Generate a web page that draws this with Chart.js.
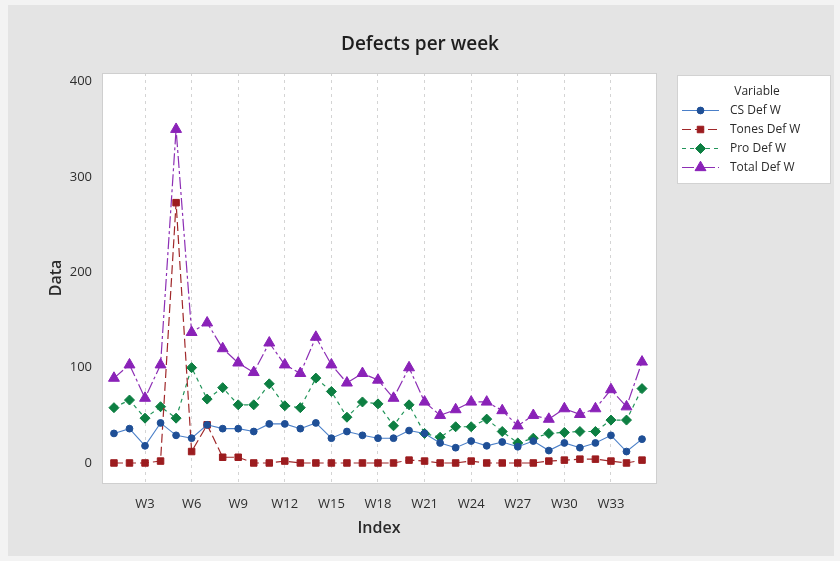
<!DOCTYPE html>
<html>
<head>
<meta charset="utf-8">
<title>Defects per week</title>
<script src="https://cdn.jsdelivr.net/npm/chart.js@4.4.1/dist/chart.umd.min.js"></script>
<style>
  html, body { margin: 0; padding: 0; background: #f3f3f3; }
  #wrap { width: 840px; height: 561px; position: relative; }
</style>
</head>
<body>
<div id="wrap"><canvas id="chart"></canvas></div>
<script>
// Week index (x axis)
const weeks = ['W1','W2','W3','W4','W5','W6','W7','W8','W9','W10',
               'W11','W12','W13','W14','W15','W16','W17','W18','W19','W20',
               'W21','W22','W23','W24','W25','W26','W27','W28','W29','W30',
               'W31','W32','W33','W34','W35'];
// Labelled weeks on the x axis
const tickWeeks = ['W3','W6','W9','W12','W15','W18','W21','W24','W27','W30','W33'];
// Y axis tick values
const yTicks = [0, 100, 200, 300, 400];

// Weekly defect counts
const csDef    = [31, 36, 18, 42, 29, 26, 40, 36, 36, 33, 41, 41, 36, 42, 26, 33, 29, 26, 26, 34,
                  31, 21, 16, 23, 18, 22, 17, 23, 13, 21, 16, 21, 29, 12, 25];
const tonesDef = [0, 0, 0, 2, 273, 12, 40, 6, 6, 0, 0, 2, 0, 0, 0, 0, 0, 0, 0, 3,
                  2, 0, 0, 2, 0, 0, 0, 0, 2, 3, 4, 4, 2, 0, 3];
const proDef   = [58, 66, 47, 59, 47, 100, 67, 79, 61, 61, 83, 60, 58, 89, 75, 48, 64, 62, 39, 61,
                  31, 27, 38, 38, 46, 33, 21, 26, 31, 32, 33, 33, 45, 45, 78];
const totalDef = [89, 103, 68, 103, 350, 137, 147, 120, 105, 95, 126, 103, 94, 132, 103, 84, 94, 87, 68, 100,
                  64, 50, 56, 64, 64, 55, 39, 50, 46, 57, 51, 57, 77, 59, 106];

const seriesNames = ['CS Def W', 'Tones Def W', 'Pro Def W', 'Total Def W'];

const FONT = "'Open Sans', 'Noto Sans', 'DejaVu Sans', sans-serif";

const toPoints = vals => vals.map((v, i) => ({ x: i + 1, y: v }));

const datasets = [
  { label: seriesNames[0], data: toPoints(csDef),
    borderColor: '#4a7fc8', backgroundColor: '#1f4f96', pointBorderColor: '#1f4f96',
    borderWidth: 1.1, borderDash: [], pointStyle: 'circle', pointRadius: 3.4 },
  { label: seriesNames[1], data: toPoints(tonesDef),
    borderColor: '#a0282a', backgroundColor: '#9c1c1f', pointBorderColor: '#9c1c1f',
    borderWidth: 1.2, borderDash: [9, 4], pointStyle: 'rect', pointRadius: 4.6 },
  { label: seriesNames[2], data: toPoints(proDef),
    borderColor: '#22955a', backgroundColor: '#0d7f42', pointBorderColor: '#0d7f42',
    borderWidth: 1.2, borderDash: [4, 4], pointStyle: 'rectRot', pointRadius: 5 },
  { label: seriesNames[3], data: toPoints(totalDef),
    borderColor: '#8d2fb5', backgroundColor: '#8a22b8', pointBorderColor: '#8a22b8',
    borderWidth: 1.2, borderDash: [12, 3, 3, 3], pointStyle: 'triangle', pointRadius: 6.3 }
];
datasets.forEach(d => { d.pointBorderWidth = 1; d.tension = 0; d.fill = false; });

// Backgrounds: outer frame, grey graph region, white data region
const backdrop = {
  id: 'backdrop',
  beforeDraw(chart) {
    const { ctx, chartArea: a } = chart;
    ctx.save();
    ctx.fillStyle = '#f3f3f3';
    ctx.fillRect(0, 0, chart.width, chart.height);
    ctx.fillStyle = '#e4e4e4';
    ctx.fillRect(8, 5, 826, 551);
    ctx.fillStyle = '#ffffff';
    ctx.fillRect(a.left, a.top, a.right - a.left, a.bottom - a.top);
    ctx.restore();
  },
  afterDraw(chart) {
    const { ctx, chartArea: a } = chart;
    ctx.save();
    ctx.strokeStyle = '#cfcfcf';
    ctx.lineWidth = 1;
    ctx.strokeRect(a.left + 0.5, a.top + 0.5, a.right - a.left, a.bottom - a.top);
    // Title
    ctx.fillStyle = '#1e1e1e';
    ctx.font = `600 19px ${FONT}`;
    ctx.textAlign = 'center';
    ctx.textBaseline = 'middle';
    ctx.fillText('Defects per week', 420, 45);
    ctx.restore();
  }
};

// Legend box at the right
const sideLegend = {
  id: 'sideLegend',
  afterDraw(chart) {
    const { ctx } = chart;
    const x0 = 677, y0 = 75, w = 153, h = 108;
    ctx.save();
    ctx.fillStyle = '#ffffff';
    ctx.fillRect(x0, y0, w, h);
    ctx.strokeStyle = '#d2d2d2';
    ctx.lineWidth = 1;
    ctx.strokeRect(x0 + 0.5, y0 + 0.5, w, h);
    ctx.fillStyle = '#2a2a2a';
    ctx.font = `12px ${FONT}`;
    ctx.textBaseline = 'middle';
    ctx.textAlign = 'center';
    ctx.fillText('Variable', 757, 92);
    ctx.textAlign = 'left';
    chart.data.datasets.forEach((ds, i) => {
      const y = 110.5 + i * 19;
      ctx.save();
      ctx.strokeStyle = ds.borderColor;
      ctx.lineWidth = ds.borderWidth;
      ctx.setLineDash(ds.borderDash);
      ctx.beginPath();
      ctx.moveTo(682, y);
      ctx.lineTo(719, y);
      ctx.stroke();
      ctx.restore();
      ctx.save();
      ctx.fillStyle = ds.backgroundColor;
      ctx.strokeStyle = ds.pointBorderColor;
      ctx.lineWidth = 1;
      Chart.helpers.drawPoint(ctx, { pointStyle: ds.pointStyle, radius: ds.pointRadius, borderWidth: 1 }, 700.5, y);
      ctx.restore();
      ctx.fillStyle = '#2a2a2a';
      ctx.fillText(ds.label, 730, y);
    });
    ctx.restore();
  }
};

new Chart(document.getElementById('chart'), {
  type: 'line',
  data: { datasets },
  plugins: [backdrop, sideLegend],
  options: {
    responsive: true,
    maintainAspectRatio: false,
    animation: false,
    events: [],
    layout: { padding: { top: 73, left: 47, right: 184, bottom: 23 } },
    plugins: { legend: { display: false }, tooltip: { enabled: false }, title: { display: false } },
    scales: {
      x: {
        type: 'linear',
        min: 0.23,
        max: 35.9,
        afterBuildTicks: s => { s.ticks = tickWeeks.map(w => ({ value: weeks.indexOf(w) + 1 })); },
        afterFit: s => { s.height = 55; },
        ticks: {
          callback: v => weeks[Math.round(v) - 1],
          color: '#2e2e2e', font: { family: FONT, size: 13 }, padding: 13, maxRotation: 0, autoSkip: false
        },
        grid: { color: '#d4d4d4', drawTicks: false, lineWidth: 1 },
        border: { display: false, dash: [3, 4] },
        title: { display: true, text: 'Index', color: '#2a2a2a', font: { family: FONT, size: 16, weight: '600' }, padding: 0 }
      },
      y: {
        type: 'linear',
        min: -21,
        max: 409,
        afterBuildTicks: s => { s.ticks = yTicks.map(v => ({ value: v })); },
        afterFit: s => { s.width = 55; },
        ticks: { color: '#2e2e2e', font: { family: FONT, size: 13 }, padding: 10 },
        grid: { display: false, drawTicks: false },
        border: { display: false },
        title: { display: true, text: 'Data', color: '#2a2a2a', font: { family: FONT, size: 16, weight: '600' }, padding: 0 }
      }
    }
  }
});
</script>
</body>
</html>
